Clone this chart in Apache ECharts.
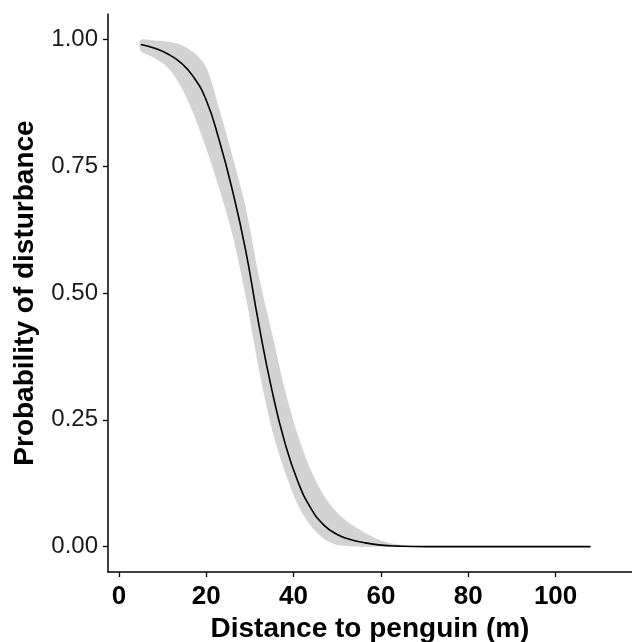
<!DOCTYPE html>
<html>
<head>
<meta charset="utf-8">
<script src="https://cdn.jsdelivr.net/npm/echarts@6/dist/echarts.min.js"></script>
<style>html,body{margin:0;padding:0;background:#fff;}#c{width:632px;height:642px;}</style>
</head>
<body>
<div id="c"></div>
<script>
const xs    = [5, 8, 11, 14, 17, 20, 23, 26, 29, 32, 35, 38, 41, 44, 47, 50, 53, 56, 60, 64, 70, 80, 90, 100, 108];
const fit   = [0.990, 0.983, 0.972, 0.955, 0.927, 0.880, 0.800, 0.702, 0.585, 0.440, 0.310, 0.205, 0.128, 0.075, 0.042, 0.024, 0.014, 0.008, 0.003, 0.001, 0, 0, 0, 0, 0];
const lower = [0.977, 0.964, 0.946, 0.910, 0.855, 0.785, 0.705, 0.615, 0.495, 0.352, 0.233, 0.148, 0.082, 0.040, 0.015, 0.003, 0.001, 0, 0, 0, 0, 0, 0, 0, 0];
const upper = [0.999, 0.998, 0.996, 0.990, 0.975, 0.945, 0.862, 0.770, 0.670, 0.535, 0.423, 0.310, 0.219, 0.150, 0.100, 0.067, 0.045, 0.029, 0.012, 0.004, 0.001, 0, 0, 0, 0];
const xTicks = [0, 20, 40, 60, 80, 100];
const yTicks = [0, 0.25, 0.5, 0.75, 1];

const chart = echarts.init(document.getElementById('c'), null, {renderer: 'canvas'});
const font = 'Liberation Sans, Arial, sans-serif';

function bandItem(params, api) {
  const top = xs.map((x, i) => api.coord([x, upper[i]]));
  const bot = xs.map((x, i) => api.coord([x, lower[i]])).reverse();
  return {
    type: 'polygon',
    shape: {points: top.concat(bot), smooth: 0.3},
    style: {fill: '#d3d3d3', stroke: null},
    silent: true
  };
}

chart.setOption({
  backgroundColor: '#ffffff',
  animation: false,
  grid: {left: 108, right: 0, top: 14, bottom: 70, containLabel: false, outerBoundsMode: 'none'},
  xAxis: {
    type: 'value', min: -2.5, max: 117.5,
    name: 'Distance to penguin (m)', nameLocation: 'middle', nameGap: 37,
    nameTextStyle: {fontFamily: font, fontSize: 28, fontWeight: 'bold', color: '#000'},
    splitLine: {show: false},
    axisLine: {onZero: false, lineStyle: {color: '#000', width: 1.5}},
    axisTick: {customValues: xTicks, length: 5, lineStyle: {color: '#000', width: 1.3}},
    axisLabel: {customValues: xTicks, margin: 12, fontFamily: font, fontSize: 26, fontWeight: 'bold', color: '#000'}
  },
  yAxis: {
    type: 'value', min: -0.05, max: 1.05,
    name: 'Probability of disturbance', nameLocation: 'middle', nameGap: 69, nameRotate: 90,
    nameTextStyle: {fontFamily: font, fontSize: 28, fontWeight: 'bold', color: '#000'},
    splitLine: {show: false},
    axisLine: {show: true, onZero: false, lineStyle: {color: '#000', width: 1.5}},
    axisTick: {show: true, customValues: yTicks, length: 5, lineStyle: {color: '#000', width: 1.3}},
    axisLabel: {customValues: yTicks, margin: 10, fontFamily: font, fontSize: 24, color: '#1a1a1a',
      formatter: v => v.toFixed(2)}
  },
  series: [
    {type: 'custom', renderItem: bandItem, data: [[xs[0], upper[0]]], clip: true, silent: true, z: 1},
    {type: 'line', data: xs.map((x, i) => [x, fit[i]]), symbol: 'none', smooth: 0.5,
      lineStyle: {color: '#000', width: 1.6}, z: 2}
  ]
});
</script>
</body>
</html>
